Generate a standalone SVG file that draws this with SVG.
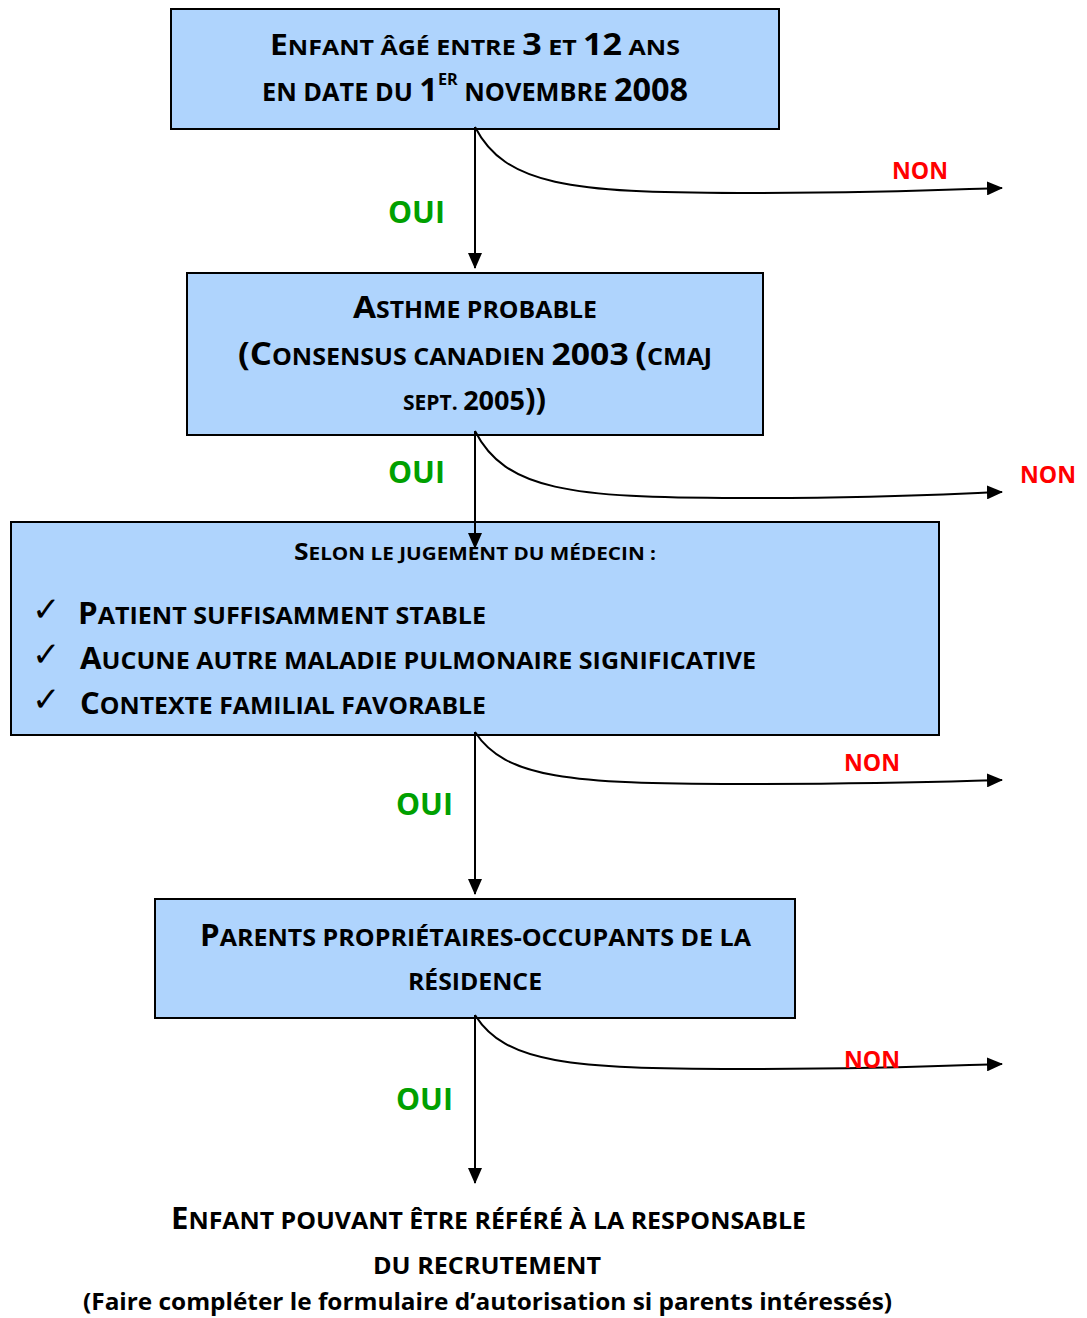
<svg xmlns="http://www.w3.org/2000/svg" width="1087" height="1318" viewBox="0 0 1087 1318">
<style>
.box{fill:#afd4fd;stroke:#000;stroke-width:2}
.t{font-family:"Open Sans","Liberation Sans",sans-serif;font-weight:700;fill:#000}
.oui{font-family:"Open Sans","Liberation Sans",sans-serif;font-weight:700;fill:#00a000;font-size:30px}
.non{font-family:"Open Sans","Liberation Sans",sans-serif;font-weight:700;fill:#ff0000;font-size:24px}
.chk{font-family:"DejaVu Sans",sans-serif;font-size:34px;fill:#000}
.ln{fill:none;stroke:#000;stroke-width:2}
</style>
<defs>
<marker id="ah" markerWidth="16" markerHeight="14" refX="15" refY="7" orient="auto" markerUnits="userSpaceOnUse">
<path d="M0,0 L16,7 L0,14 Z" fill="#000"/>
</marker>
</defs>

<g id="node1">
<rect class="box" x="171" y="9" width="608" height="120"/>
<text class="t" x="270" y="55" textLength="410" lengthAdjust="spacingAndGlyphs"><tspan font-size="28">E</tspan><tspan font-size="22">NFANT ÂGÉ ENTRE </tspan><tspan font-size="30">3</tspan><tspan font-size="22"> ET </tspan><tspan font-size="30">12</tspan><tspan font-size="22"> ANS</tspan></text>
<text class="t" x="262" y="101" textLength="426" lengthAdjust="spacingAndGlyphs"><tspan font-size="25">EN DATE DU </tspan><tspan font-size="32">1</tspan><tspan font-size="16" dy="-16">ER</tspan><tspan font-size="25" dy="16"> NOVEMBRE </tspan><tspan font-size="32">2008</tspan></text>
</g>

<g id="node2">
<rect class="box" x="187" y="273" width="576" height="162"/>
<text class="t" x="353" y="318" textLength="244" lengthAdjust="spacingAndGlyphs"><tspan font-size="31">A</tspan><tspan font-size="23">STHME PROBABLE</tspan></text>
<text class="t" x="238" y="365" textLength="474" lengthAdjust="spacingAndGlyphs"><tspan font-size="32">(C</tspan><tspan font-size="23">ONSENSUS CANADIEN </tspan><tspan font-size="31">2003</tspan><tspan font-size="23"> </tspan><tspan font-size="32">(</tspan><tspan font-size="23">CMAJ</tspan></text>
<text class="t" x="403" y="410" textLength="143" lengthAdjust="spacingAndGlyphs"><tspan font-size="21">SEPT. </tspan><tspan font-size="27">2005</tspan><tspan font-size="31">))</tspan></text>
</g>

<g id="node3">
<rect class="box" x="11" y="522" width="928" height="213"/>
<text class="t" x="294" y="560" textLength="362" lengthAdjust="spacingAndGlyphs"><tspan font-size="23">S</tspan><tspan font-size="18">ELON LE JUGEMENT DU MÉDECIN :</tspan></text>
<text class="chk" x="32" y="621">✓</text>
<text class="chk" x="32" y="666">✓</text>
<text class="chk" x="32" y="711">✓</text>
<text class="t" x="78" y="624" textLength="408" lengthAdjust="spacingAndGlyphs"><tspan font-size="30">P</tspan><tspan font-size="24">ATIENT SUFFISAMMENT STABLE</tspan></text>
<text class="t" x="80" y="669" textLength="676" lengthAdjust="spacingAndGlyphs"><tspan font-size="30">A</tspan><tspan font-size="24">UCUNE AUTRE MALADIE PULMONAIRE SIGNIFICATIVE</tspan></text>
<text class="t" x="80" y="714" textLength="406" lengthAdjust="spacingAndGlyphs"><tspan font-size="30">C</tspan><tspan font-size="24">ONTEXTE FAMILIAL FAVORABLE</tspan></text>
</g>

<g id="node4">
<rect class="box" x="155" y="899" width="640" height="119"/>
<text class="t" x="200" y="946" textLength="551" lengthAdjust="spacingAndGlyphs"><tspan font-size="30">P</tspan><tspan font-size="24">ARENTS PROPRIÉTAIRES-OCCUPANTS DE LA</tspan></text>
<text class="t" x="408" y="990" textLength="134" lengthAdjust="spacingAndGlyphs"><tspan font-size="24">RÉSIDENCE</tspan></text>
</g>

<g id="node5">
<text class="t" x="171" y="1229" textLength="635" lengthAdjust="spacingAndGlyphs"><tspan font-size="30">E</tspan><tspan font-size="24">NFANT POUVANT ÊTRE RÉFÉRÉ À LA RESPONSABLE</tspan></text>
<text class="t" x="373" y="1274" textLength="228" lengthAdjust="spacingAndGlyphs"><tspan font-size="24">DU RECRUTEMENT</tspan></text>
<text class="t" x="83" y="1310" font-size="24" textLength="809" lengthAdjust="spacingAndGlyphs">(Faire compléter le formulaire d’autorisation si parents intéressés)</text>
</g>

<g id="connectors">
<line class="ln" x1="475" y1="127" x2="475" y2="268" marker-end="url(#ah)"/>
<path class="ln" d="M475,127 C505,185 570,193 740,193 S960,189 1002,188" marker-end="url(#ah)"/>
<line class="ln" x1="475" y1="431" x2="475" y2="548" marker-end="url(#ah)"/>
<path class="ln" d="M475,431 C505,490 570,498 740,498 S960,493 1002,492" marker-end="url(#ah)"/>
<line class="ln" x1="475" y1="732" x2="475" y2="894" marker-end="url(#ah)"/>
<path class="ln" d="M475,732 C505,778 570,784 740,784 S960,781 1002,780" marker-end="url(#ah)"/>
<line class="ln" x1="475" y1="1015" x2="475" y2="1183" marker-end="url(#ah)"/>
<path class="ln" d="M475,1015 C505,1063 570,1069 740,1069 S960,1065 1002,1064" marker-end="url(#ah)"/>
</g>

<g id="labels">
<text class="oui" x="388" y="223" textLength="57" lengthAdjust="spacingAndGlyphs">OUI</text>
<text class="oui" x="388" y="483" textLength="57" lengthAdjust="spacingAndGlyphs">OUI</text>
<text class="oui" x="396" y="815" textLength="57" lengthAdjust="spacingAndGlyphs">OUI</text>
<text class="oui" x="396" y="1110" textLength="57" lengthAdjust="spacingAndGlyphs">OUI</text>
<text class="non" x="892" y="179" textLength="56" lengthAdjust="spacingAndGlyphs">NON</text>
<text class="non" x="1020" y="483" textLength="56" lengthAdjust="spacingAndGlyphs">NON</text>
<text class="non" x="844" y="771" textLength="56" lengthAdjust="spacingAndGlyphs">NON</text>
<text class="non" x="844" y="1068" textLength="56" lengthAdjust="spacingAndGlyphs">NON</text>
</g>
</svg>
